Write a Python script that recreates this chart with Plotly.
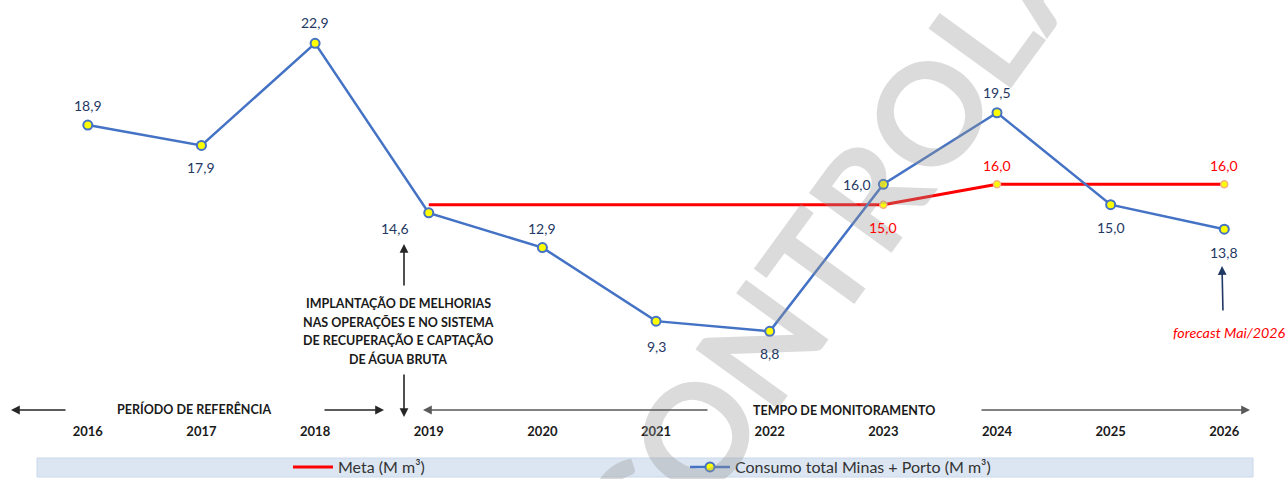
import plotly.graph_objects as go

# ---------------- data ----------------
years = [2016, 2017, 2018, 2019, 2020, 2021, 2022, 2023, 2024, 2025, 2026]
year_labels = ["2016", "2017", "2018", "2019", "2020", "2021", "2022", "2023", "2024", "2025", "2026"]
consumo = [18.9, 17.9, 22.9, 14.6, 12.9, 9.3, 8.8, 16.0, 19.5, 15.0, 13.8]

meta_years = [2019, 2020, 2021, 2022, 2023, 2024, 2025, 2026]
meta = [15.0, 15.0, 15.0, 15.0, 15.0, 16.0, 16.0, 16.0]
meta_marked_years = [2023, 2024, 2026]

serie_consumo = "Consumo total Minas + Porto (M m³)"
serie_meta = "Meta (M m³)"
forecast_text = "forecast Mai/2026"
periodo_ref = "PERÍODO DE REFERÊNCIA"
periodo_mon = "TEMPO DE MONITORAMENTO"
implantacao_lines = ["IMPLANTAÇÃO DE MELHORIAS", "NAS OPERAÇÕES E NO SISTEMA",
                     "DE RECUPERAÇÃO E CAPTAÇÃO", "DE ÁGUA BRUTA"]
watermark = "CONTROLADA"

# ---------------- style ----------------
W, H = 1288, 479
BLUE = "#4472C4"
NAVY = "#1F3864"
RED = "#FF0000"
FONT = "Lato, Carlito, 'Open Sans', sans-serif"

def fmt(v):
    return f"{v:.1f}".replace(".", ",")

def px(x):
    return x / W

def py(y):
    return 1 - y / H

# label offsets (xshift, yshift) in pixels for each consumo point
consumo_offsets = [(0, 20), (0, -22), (0, 21), (-34, -16), (0, 19), (0, -25),
                   (0, -22), (-26, 0), (0, 20), (0, -23), (0, -23)]
meta_offsets = {2023: (0, -23), 2024: (0, 19), 2026: (0, 19)}

fig = go.Figure()

fig.add_trace(go.Scatter(
    x=meta_years, y=meta, name=serie_meta, mode="lines",
    line=dict(color=RED, width=3), hoverinfo="skip"))

fig.add_trace(go.Scatter(
    x=years, y=consumo, name=serie_consumo, mode="lines+markers",
    line=dict(color=BLUE, width=2.5),
    marker=dict(size=9, color="#FFFF00", line=dict(color=BLUE, width=2)),
    hoverinfo="skip"))

mk_x = [yr for yr in meta_years if yr in meta_marked_years]
mk_y = [v for yr, v in zip(meta_years, meta) if yr in meta_marked_years]
fig.add_trace(go.Scatter(
    x=mk_x, y=mk_y, mode="markers", showlegend=False,
    marker=dict(size=7, color="#FFFF00", line=dict(color="#F4B183", width=1.5)),
    hoverinfo="skip"))

annotations = []

def centered(**kw):
    d = dict(xanchor="center", yanchor="middle", showarrow=False)
    d.update(kw)
    return d

# watermark
annotations.append(centered(
    x=px(893), y=py(157), xref="paper", yref="paper", text=watermark, textangle=-54,
    font=dict(family=FONT, size=141, color="rgba(150,150,150,0.34)", weight="bold")))

# data labels
for yr, v, (dx, dy) in zip(years, consumo, consumo_offsets):
    annotations.append(centered(x=yr, y=v, xref="x", yref="y", text=fmt(v),
                                xshift=dx, yshift=dy,
                                font=dict(family=FONT, size=14, color=NAVY)))
for yr, v in zip(meta_years, meta):
    if yr in meta_offsets:
        dx, dy = meta_offsets[yr]
        annotations.append(centered(x=yr, y=v, xref="x", yref="y", text=fmt(v),
                                    xshift=dx, yshift=dy,
                                    font=dict(family=FONT, size=14, color=RED)))

# arrows  (head_x, head_y, tail_x, tail_y, color)
arrows = [
    (11, 410, 67, 410, "#262626"),
    (384, 410, 323, 410, "#262626"),
    (423, 410, 709, 410, "#595959"),
    (1250, 410, 980, 410, "#595959"),
    (404, 244, 404, 287, "#262626"),
    (404, 417, 404, 373, "#262626"),
    (1222, 266, 1223, 312, NAVY),
]
for hx, hy, tx, ty, col in arrows:
    annotations.append(dict(x=px(hx), y=py(hy), xref="paper", yref="paper",
                            ax=tx - hx, ay=ty - hy, axref="pixel", ayref="pixel",
                            text="", showarrow=True, arrowhead=2, arrowsize=1.1,
                            arrowwidth=1.6, arrowcolor=col, standoff=0, startstandoff=0))

# text blocks
bold_font = dict(family=FONT, size=12.5, color="#1a1a1a", weight="bold")
annotations.append(centered(x=px(194), y=py(409), xref="paper", yref="paper",
                            text=periodo_ref, font=bold_font))
annotations.append(centered(x=px(844), y=py(410), xref="paper", yref="paper",
                            text=periodo_mon, font=bold_font))
for line, ly in zip(implantacao_lines, [303.5, 322, 340.5, 359]):
    annotations.append(centered(x=px(398), y=py(ly), xref="paper", yref="paper",
                                text=line, font=bold_font))
annotations.append(centered(x=px(1229), y=py(332), xref="paper", yref="paper",
                            text=forecast_text,
                            font=dict(family=FONT, size=14.3, color=RED, style="italic")))

shapes = [dict(type="rect", xref="paper", yref="paper",
               x0=px(37), x1=px(1253), y0=py(477), y1=py(458),
               fillcolor="#DCE6F2", line=dict(color="#C9D8EC", width=1), layer="below")]

x0 = 2016 - 87.8 / 113.65
x1 = 2016 + (W - 87.8) / 113.65
y_top = 22.9 + 43.3 / 20.43
y_bot = 22.9 - (H - 43.3) / 20.43

fig.update_layout(
    width=W, height=H,
    margin=dict(l=0, r=0, t=0, b=0, autoexpand=False),
    paper_bgcolor="white", plot_bgcolor="white",
    font=dict(family=FONT),
    xaxis=dict(range=[x0, x1], tickvals=years, ticktext=year_labels,
               showgrid=False, zeroline=False, showline=False, ticks="",
               anchor="free", position=py(422), automargin=False,
               tickfont=dict(family=FONT, size=13, color="#1a1a1a", weight="bold"),
               fixedrange=True),
    yaxis=dict(range=[y_bot, y_top], visible=False, fixedrange=True, automargin=False),
    showlegend=True,
    legend=dict(orientation="h", x=px(288), xanchor="left", y=py(467), yanchor="middle",
                bgcolor="rgba(0,0,0,0)", itemwidth=40, entrywidth=342,
                entrywidthmode="pixels",
                font=dict(family=FONT, size=16, color="#333333")),
    annotations=annotations,
    shapes=shapes,
)

fig.write_html("out.html", config={"displayModeBar": False},
               post_script="document.body.style.margin='0px';")
